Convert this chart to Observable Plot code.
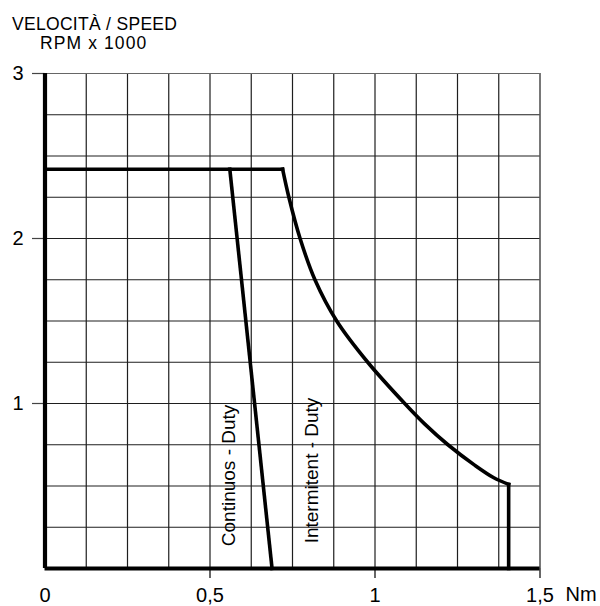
<!DOCTYPE html>
<html><head><meta charset="utf-8">
<script src="https://cdn.jsdelivr.net/npm/d3@7"></script>
<script src="https://cdn.jsdelivr.net/npm/@observablehq/plot@0.6"></script>
<style>
body{margin:0;background:#fff;}
#wrap{position:relative;width:600px;height:606px;}
#wrap svg{position:absolute;left:0;top:0;}
.t{position:absolute;font-family:"Liberation Sans",Arial,sans-serif;font-size:17.5px;color:#000;white-space:pre;line-height:1;}
g[aria-label="duty"] text{letter-spacing:0.6px;}
</style></head><body>
<div id="wrap"></div>
<script>
// ---- data ----
const titleLine1 = "VELOCITÀ / SPEED";
const titleLine2 = "RPM x 1000";
const unitLabel = "Nm";

const xTicks = [0, 0.5, 1, 1.5];
const xTickMarks = [0.5, 1, 1.5];
const yTicks = [1, 2, 3];
const gridX = [0.125, 0.25, 0.375, 0.5, 0.625, 0.75, 0.875, 1, 1.125, 1.25, 1.375, 1.5];
const gridY = [0.25, 0.5, 0.75, 1, 1.25, 1.5, 1.75, 2, 2.25, 2.5, 2.75, 3];

// Continuous duty (torque Nm, speed krpm)
const contX = [0.56, 0.688];
const contY = [2.42, 0];

// Intermittent duty: flat top from 0, curved drop, vertical end
const maxSpeed = 2.42;
const intCurveX = [0.72, 0.739, 0.773, 0.818, 0.884, 0.978, 1.09, 1.151, 1.221, 1.303, 1.36, 1.405];
const intCurveY = [2.42, 2.25, 2.0, 1.75, 1.5, 1.25, 1.0, 0.875, 0.75, 0.625, 0.55, 0.51];

const labels = ["Continuos - Duty", "Intermitent - Duty"];
const labelX = [0.556, 0.81];
const labelY = [0.564, 0.594];

// ---- tables ----
const cont = contX.map((x, i) => ({x, y: contY[i]}));
const curve = intCurveX.map((x, i) => ({x, y: intCurveY[i]}));
const n = curve.length - 1;
const flat = [{x: 0, y: maxSpeed}, {x: intCurveX[0], y: intCurveY[0]}];
const drop = [{x: intCurveX[n], y: intCurveY[n]}, {x: intCurveX[n], y: 0}];
const lab = labels.map((t, i) => ({t, x: labelX[i], y: labelY[i]}));

const fmt = d => String(d).replace(".", ",");
const lineOpts = {x: "x", y: "y", stroke: "#000", strokeWidth: 3.6, strokeLinejoin: "miter", strokeLinecap: "square"};

const plot = Plot.plot({
  width: 600, height: 606,
  marginLeft: 44.5, marginRight: 60.5, marginTop: 73, marginBottom: 38,
  x: {domain: [0, 1.5], label: null},
  y: {domain: [0, 3], label: null},
  style: {fontFamily: "Liberation Sans, Arial, sans-serif", fontSize: "20px", color: "#000", background: "#fff"},
  marks: [
    Plot.ruleX(gridX, {stroke: "#1e1e1e", strokeWidth: 1.2}),
    Plot.ruleY(gridY, {stroke: d => d === 3 ? "#666" : "#1e1e1e", strokeWidth: 1.2}),
    Plot.axisY({ticks: yTicks, tickSize: 12.5, tickPadding: 9, tickFormat: fmt, fontSize: 20, stroke: "#444", strokeWidth: 1.2, label: null}),
    Plot.axisX({ticks: xTickMarks, tickSize: 10, text: null, strokeWidth: 1.2, label: null}),
    Plot.axisX({ticks: xTicks, tickSize: 0, tickPadding: 19, tickFormat: fmt, fontSize: 20, label: null}),
    Plot.ruleX([0], {stroke: "#000", strokeWidth: 4.2}),
    Plot.ruleY([0], {stroke: "#000", strokeWidth: 4.2, x1: 0, x2: 1.5}),
    Plot.line(cont, lineOpts),
    Plot.line(flat, lineOpts),
    Plot.line(curve, {...lineOpts, curve: "catmull-rom"}),
    Plot.line(drop, lineOpts),
    Plot.text(lab, {x: "x", y: "y", text: "t", rotate: -90, fontSize: 19, fill: "#000", textAnchor: "middle", lineAnchor: "middle", ariaLabel: "duty"}),
    Plot.text([unitLabel], {frameAnchor: "bottom-right", dx: 25.5, dy: 26, textAnchor: "start", lineAnchor: "middle", fontSize: 20, fill: "#000"})
  ]
});

const wrap = document.getElementById("wrap");
wrap.appendChild(plot);
const t1 = document.createElement("div");
t1.className = "t"; t1.style.left = "12px"; t1.style.top = "15.5px"; t1.style.letterSpacing = "0.3px"; t1.textContent = titleLine1;
const t2 = document.createElement("div");
t2.className = "t"; t2.style.left = "40px"; t2.style.top = "34.5px"; t2.style.letterSpacing = "1.1px"; t2.textContent = titleLine2;
wrap.appendChild(t1); wrap.appendChild(t2);
</script>
</body></html>
